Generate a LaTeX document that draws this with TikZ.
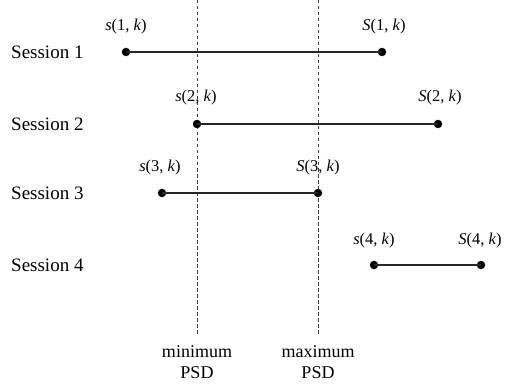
\documentclass[tikz,border=0pt]{standalone}
\usepackage{fontspec}
\setmainfont{Liberation Serif}
\begin{document}
\begin{tikzpicture}[x=1pt,y=-1pt,
  dot/.style={circle,fill=black,inner sep=0pt,minimum size=8.5pt},
  seg/.style={line width=1.1pt,draw=black!85},
  guide/.style={line width=1pt,draw=black!75,dash pattern=on 3.5pt off 2.5pt},
  sess/.style={anchor=west,font=\fontsize{19}{22}\selectfont,inner sep=0pt},
  lab/.style={font=\fontsize{16.5}{19}\selectfont,inner sep=0pt},
  axl/.style={font=\fontsize{18}{21}\selectfont,inner sep=0pt,align=center}]
\useasboundingbox (0,0) rectangle (506,385);
% guides
\coordinate (mintop) at (197,0);
\coordinate (minbot) at (197,335);
\coordinate (maxtop) at (318,0);
\coordinate (maxbot) at (318,335);
\draw[guide] (mintop) -- (minbot);
\draw[guide] (maxtop) -- (maxbot);
% sessions
\node[sess] (l1) at (11,52) {Session 1};
\node[sess] (l2) at (11,124) {Session 2};
\node[sess] (l3) at (11,193) {Session 3};
\node[sess] (l4) at (11,265) {Session 4};
% dots
\node[dot] (a1) at (126,52) {};
\node[dot] (b1) at (382,52) {};
\node[dot] (a2) at (197,124) {};
\node[dot] (b2) at (438,124) {};
\node[dot] (a3) at (162,193) {};
\node[dot] (b3) at (318,193) {};
\node[dot] (a4) at (374,265) {};
\node[dot] (b4) at (481,265) {};
\draw[seg] (a1.center) -- (b1.center);
\draw[seg] (a2.center) -- (b2.center);
\draw[seg] (a3.center) -- (b3.center);
\draw[seg] (a4.center) -- (b4.center);
% labels
\node[lab] (ta1) at (126,27) {\textit{s}(1, \textit{k})};
\node[lab] (tb1) at (384,27) {\textit{S}(1, \textit{k})};
\node[lab] (ta2) at (196,98) {\textit{s}(2, \textit{k})};
\node[lab] (tb2) at (440,98) {\textit{S}(2, \textit{k})};
\node[lab] (ta3) at (160,168) {\textit{s}(3, \textit{k})};
\node[lab] (tb3) at (318,168) {\textit{S}(3, \textit{k})};
\node[lab] (ta4) at (374,241) {\textit{s}(4, \textit{k})};
\node[lab] (tb4) at (480,241) {\textit{S}(4, \textit{k})};
% axis labels
\node[axl] (mn) at (197,362) {minimum\\PSD};
\node[axl] (mx) at (318,362) {maximum\\PSD};
\end{tikzpicture}
\end{document}
